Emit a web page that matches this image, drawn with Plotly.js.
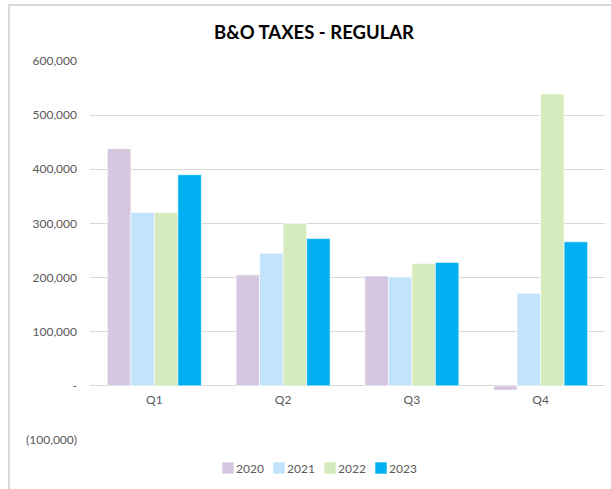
<!DOCTYPE html>
<html><head><meta charset="utf-8">
<script src="https://cdn.plot.ly/plotly-3.0.1.min.js"></script>
<style>
html,body{margin:0;padding:0;width:611px;height:489px;overflow:hidden;background:#fff;}
#frame{position:absolute;left:8px;top:4px;width:700px;height:600px;border:2px solid #d9d9d9;box-sizing:border-box;}
#chart{position:absolute;left:0;top:0;width:611px;height:489px;}
</style>
</head><body>
<div id="frame"></div>
<div id="chart"></div>
<script>
const categories = ["Q1", "Q2", "Q3", "Q4"];
const seriesNames = ["2020", "2021", "2022", "2023"];
const values2020 = [438000, 205000, 203000, -8000];
const values2021 = [320000, 245000, 201000, 171000];
const values2022 = [320000, 300000, 226000, 539000];
const values2023 = [390000, 272000, 228000, 266000];
const colors = ["#d5c7df", "#c1e3fb", "#d5ebbd", "#00b0f0"];
const yTickVals = [-100000, 0, 100000, 200000, 300000, 400000, 500000, 600000];
const yTickText = ["(100,000)", "-", "100,000", "200,000", "300,000", "400,000", "500,000", "600,000"];

const allValues = [values2020, values2021, values2022, values2023];
const traces = seriesNames.map((name, i) => ({
  type: "bar",
  name: name,
  x: categories,
  y: allValues[i],
  marker: {color: colors[i], line: {color: "#ffffff", width: 0.6}},
  hoverinfo: "x+y+name"
}));

const font = "Lato, 'Open Sans', sans-serif";
const layout = {
  width: 611, height: 489,
  paper_bgcolor: "rgba(0,0,0,0)",
  plot_bgcolor: "rgba(0,0,0,0)",
  margin: {l: 90, r: 6, t: 61, b: 49, pad: 0},
  barmode: "group",
  bargap: 0.27,
  bargroupgap: 0,
  font: {family: font, color: "#595959", size: 12},
  title: {
    text: "<b>B&O TAXES - REGULAR</b>",
    font: {family: font, size: 18.5, color: "#000000"},
    xref: "container", x: 0.514, xanchor: "center",
    yref: "container", y: 1 - 33/489, yanchor: "middle"
  },
  xaxis: {
    type: "category",
    showgrid: false, showline: false, zeroline: false,
    ticks: "", tickfont: {size: 12, color: "#595959"},
    anchor: "free", position: (440 - 386) / 379,
    ticklabelstandoff: 5
  },
  yaxis: {
    range: [-100000, 600000],
    tickvals: yTickVals, ticktext: yTickText,
    showgrid: true, gridcolor: "#d9d9d9", gridwidth: 1,
    zeroline: true, zerolinecolor: "#d9d9d9", zerolinewidth: 1,
    showline: false, ticks: "",
    tickfont: {size: 12, color: "#595959"},
    ticklabelstandoff: 12
  },
  showlegend: true,
  legend: {
    orientation: "h",
    xref: "container", x: 310/611, xanchor: "center",
    yref: "container", y: 1 - 468/489, yanchor: "middle",
    font: {size: 12, color: "#595959"},
    itemwidth: 30, traceorder: "normal",
    entrywidth: 6, entrywidthmode: "pixels",
    bgcolor: "rgba(0,0,0,0)"
  }
};
Plotly.newPlot("chart", traces, layout, {displayModeBar: false, staticPlot: true}).then(gd => {
  gd.querySelectorAll(".legend .legendtext").forEach(t => {
    t.setAttribute("x", (parseFloat(t.getAttribute("x")) || 40) - 12);
  });
  gd.querySelectorAll(".legend [clip-path]").forEach(el => el.removeAttribute("clip-path"));
});
</script>
</body></html>
